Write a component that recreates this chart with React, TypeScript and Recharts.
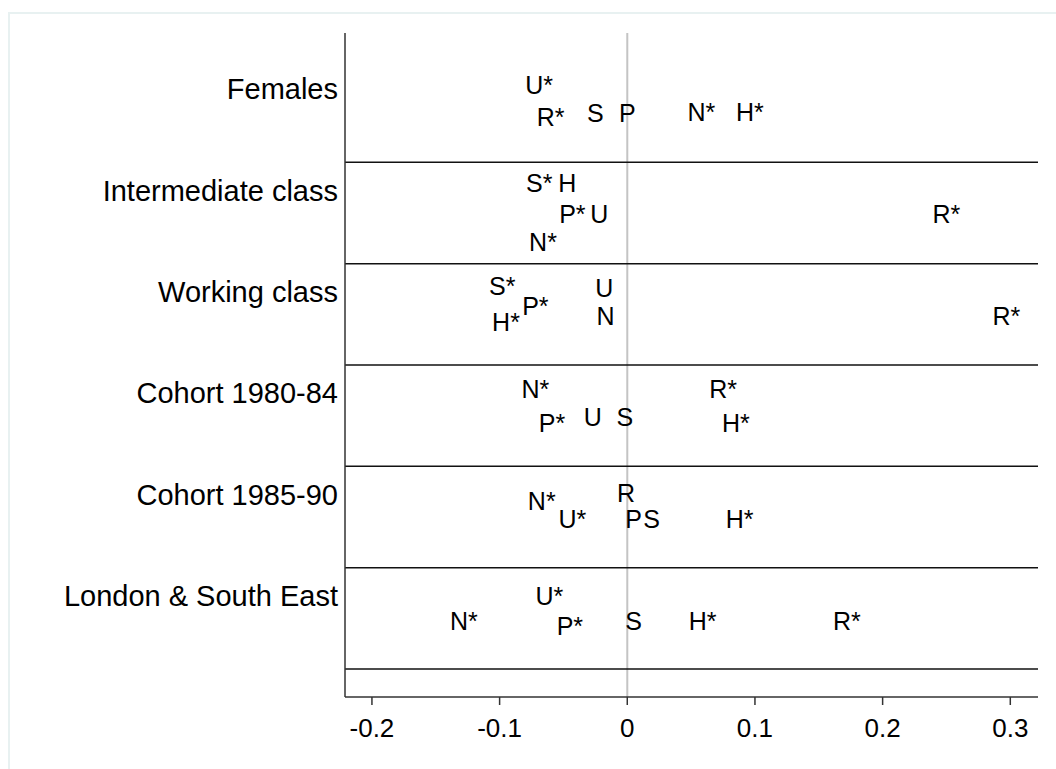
import React from 'react';
import {
  ScatterChart,
  Scatter,
  XAxis,
  YAxis,
  ReferenceLine,
} from 'recharts';

// group labels (top to bottom) and their row on the y scale
const categories = [
  'Females',
  'Intermediate class',
  'Working class',
  'Cohort 1980-84',
  'Cohort 1985-90',
  'London & South East',
];
const categoryRows = [6, 5, 4, 3, 2, 1];

// separators between groups
const separators = [0.275, 1.275, 2.275, 3.275, 4.275, 5.275];

const xTicks = [-0.2, -0.1, 0, 0.1, 0.2, 0.3];

// estimates per group: letter label, effect (x), row position (y)
const females = [
  { label: 'U*', x: -0.069, y: 6.04 },
  { label: 'R*', x: -0.06, y: 5.72 },
  { label: 'S', x: -0.025, y: 5.76 },
  { label: 'P', x: 0.0, y: 5.76 },
  { label: 'N*', x: 0.058, y: 5.77 },
  { label: 'H*', x: 0.096, y: 5.77 },
];

const intermediate = [
  { label: 'S*', x: -0.069, y: 5.07 },
  { label: 'H', x: -0.047, y: 5.07 },
  { label: 'P*', x: -0.043, y: 4.76 },
  { label: 'U', x: -0.022, y: 4.76 },
  { label: 'N*', x: -0.066, y: 4.49 },
  { label: 'R*', x: 0.25, y: 4.76 },
];

const working = [
  { label: 'S*', x: -0.098, y: 4.05 },
  { label: 'P*', x: -0.072, y: 3.86 },
  { label: 'H*', x: -0.095, y: 3.7 },
  { label: 'U', x: -0.018, y: 4.03 },
  { label: 'N', x: -0.017, y: 3.76 },
  { label: 'R*', x: 0.297, y: 3.76 },
];

const cohort8084 = [
  { label: 'N*', x: -0.072, y: 3.04 },
  { label: 'P*', x: -0.059, y: 2.7 },
  { label: 'U', x: -0.027, y: 2.76 },
  { label: 'S', x: -0.002, y: 2.76 },
  { label: 'R*', x: 0.075, y: 3.04 },
  { label: 'H*', x: 0.085, y: 2.7 },
];

const cohort8590 = [
  { label: 'N*', x: -0.067, y: 1.93 },
  { label: 'U*', x: -0.043, y: 1.76 },
  { label: 'R', x: -0.001, y: 2.01 },
  { label: 'P', x: 0.005, y: 1.76 },
  { label: 'S', x: 0.019, y: 1.76 },
  { label: 'H*', x: 0.088, y: 1.76 },
];

const london = [
  { label: 'U*', x: -0.061, y: 1.0 },
  { label: 'N*', x: -0.128, y: 0.75 },
  { label: 'P*', x: -0.045, y: 0.7 },
  { label: 'S', x: 0.005, y: 0.75 },
  { label: 'H*', x: 0.059, y: 0.75 },
  { label: 'R*', x: 0.172, y: 0.75 },
];

const groups = [females, intermediate, working, cohort8084, cohort8590, london];

const FONT = '"Liberation Sans", Arial, sans-serif';

const LetterMark = (props: any) => {
  const { cx, cy, payload } = props;
  return (
    <text
      x={cx}
      y={cy}
      dy="0.36em"
      textAnchor="middle"
      fontFamily={FONT}
      fontSize={25}
      fill="#000"
    >
      {payload.label}
    </text>
  );
};

const CategoryTick = (props: any) => {
  const { x, y, payload } = props;
  const idx = categoryRows.indexOf(payload.value);
  return (
    <text
      x={x}
      y={y}
      dy="0.36em"
      textAnchor="end"
      fontFamily={FONT}
      fontSize={29}
      fill="#000"
    >
      {idx >= 0 ? categories[idx] : ''}
    </text>
  );
};

const ValueTick = (props: any) => {
  const { x, y, payload } = props;
  return (
    <text
      x={x}
      y={y}
      dy={32}
      textAnchor="middle"
      fontFamily={FONT}
      fontSize={26}
      fill="#000"
    >
      {String(payload.value)}
    </text>
  );
};

const App: React.FC = () => {
  return (
    <div style={{ position: 'absolute', left: 0, top: 0, width: 1056, height: 769, background: '#fff', overflow: 'hidden' }}>
      <div
        style={{
          position: 'absolute',
          left: 8,
          top: 12,
          width: 1100,
          height: 800,
          border: '2px solid #e8f1f1',
        }}
      />
      <div style={{ position: 'absolute', left: 0, top: 0 }}>
        <ScatterChart
          width={1056}
          height={769}
          margin={{ top: 33, right: 18, bottom: 0, left: 0 }}
        >
          <XAxis
            type="number"
            dataKey="x"
            domain={[-0.2211, 0.3217]}
            ticks={xTicks}
            allowDataOverflow
            height={72}
            tickSize={8}
            tickMargin={0}
            stroke="#333"
            strokeWidth={1.5}
            tick={<ValueTick />}
          />
          <YAxis
            type="number"
            dataKey="y"
            domain={[0, 6.55]}
            ticks={categoryRows}
            allowDataOverflow
            width={345}
            tickLine={false}
            tickSize={0}
            tickMargin={7}
            stroke="#333"
            strokeWidth={1.5}
            tick={<CategoryTick />}
          />
          <ReferenceLine x={0} stroke="#c4c4c4" strokeWidth={2} />
          {separators.map((s) => (
            <ReferenceLine key={s} y={s} stroke="#111" strokeWidth={1.5} />
          ))}
          {groups.map((g, i) => (
            <Scatter
              key={i}
              data={g}
              shape={<LetterMark />}
              isAnimationActive={false}
            />
          ))}
        </ScatterChart>
      </div>
    </div>
  );
};

export default App;
